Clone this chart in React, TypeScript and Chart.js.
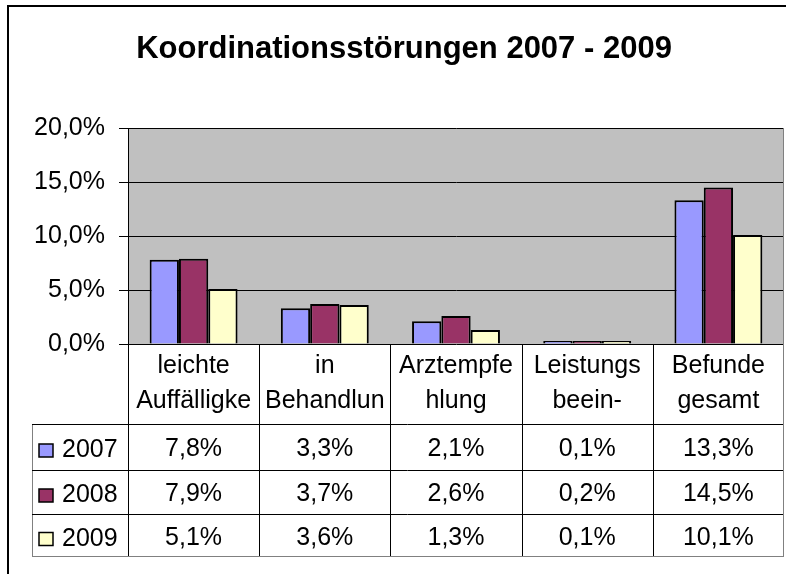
import React, { useEffect, useRef } from "react";
import { Chart, registerables } from "chart.js";

Chart.register(...registerables);

const TITLE = "Koordinationsstörungen 2007 - 2009";
const categories: string[][] = [
  ["leichte", "Auffälligke"],
  ["in", "Behandlun"],
  ["Arztempfe", "hlung"],
  ["Leistungs", "beein-"],
  ["Befunde", "gesamt"],
];
const seriesNames = ["2007", "2008", "2009"];
const values2007 = [7.8, 3.3, 2.1, 0.1, 13.3];
const values2008 = [7.9, 3.7, 2.6, 0.2, 14.5];
const values2009 = [5.1, 3.6, 1.3, 0.1, 10.1];
const seriesColors = ["#9999FF", "#993366", "#FFFFCC"];
const yTicks = [0, 5, 10, 15, 20];

const FONT = "'Liberation Sans', Arial, sans-serif";
const fmt = (v: number) => v.toFixed(1).replace(".", ",") + "%";

export default function App() {
  const ref = useRef<HTMLCanvasElement | null>(null);

  useEffect(() => {
    document.body.style.margin = "0";
    const canvas = ref.current!;
    const seriesValues = [values2007, values2008, values2009];

    const framePlugin = {
      id: "frame",
      beforeDraw(chart: any) {
        const { ctx, chartArea } = chart;
        ctx.save();
        ctx.fillStyle = "#FFFFFF";
        ctx.fillRect(0, 0, chart.width, chart.height);
        ctx.fillStyle = "#C0C0C0";
        ctx.fillRect(chartArea.left, chartArea.top, chartArea.right - chartArea.left, chartArea.bottom - chartArea.top);
        // outer frame
        ctx.strokeStyle = "#000000";
        ctx.lineWidth = 2;
        ctx.beginPath();
        ctx.moveTo(8, chart.height);
        ctx.lineTo(8, 6);
        ctx.lineTo(786, 6);
        ctx.stroke();
        // title
        ctx.fillStyle = "#000000";
        ctx.font = `bold 31px ${FONT}`;
        ctx.textAlign = "center";
        ctx.textBaseline = "alphabetic";
        ctx.fillText(TITLE, 404, 58);
        ctx.restore();
      },
      afterDatasetsDraw(chart: any) {
        const { ctx, chartArea } = chart;
        ctx.save();
        ctx.strokeStyle = "#808080";
        ctx.lineWidth = 1;
        ctx.beginPath();
        ctx.moveTo(chartArea.right - 0.5, chartArea.top);
        ctx.lineTo(chartArea.right - 0.5, chartArea.bottom);
        ctx.stroke();
        ctx.restore();
      },
      afterDraw(chart: any) {
        const { ctx, chartArea } = chart;
        const xs = chart.scales.x;
        const band = (chartArea.right - chartArea.left) / categories.length;
        const top = chartArea.bottom;
        const headerBottom = top + 80;
        const rowH = [46, 44, 43];
        const rowTops: number[] = [];
        let y = headerBottom;
        for (const h of rowH) { rowTops.push(y); y += h; }
        const tableBottom = y;
        const legendLeft = 32;

        ctx.save();
        ctx.lineWidth = 1;
        // vertical lines
        ctx.strokeStyle = "#000000";
        for (let i = 0; i < categories.length; i++) {
          const bx = Math.round(xs.getPixelForValue(i) - band / 2) + 0.5;
          ctx.beginPath();
          ctx.moveTo(bx, top);
          ctx.lineTo(bx, tableBottom);
          ctx.stroke();
        }
        ctx.strokeStyle = "#808080";
        ctx.beginPath();
        ctx.moveTo(chartArea.right - 0.5, top);
        ctx.lineTo(chartArea.right - 0.5, tableBottom);
        ctx.moveTo(legendLeft + 0.5, headerBottom);
        ctx.lineTo(legendLeft + 0.5, tableBottom);
        ctx.moveTo(legendLeft, tableBottom - 0.5);
        ctx.lineTo(chartArea.right, tableBottom - 0.5);
        ctx.stroke();
        // horizontal lines
        ctx.strokeStyle = "#000000";
        for (const rt of rowTops) {
          ctx.beginPath();
          ctx.moveTo(legendLeft, rt + 0.5);
          ctx.lineTo(chartArea.right - 1, rt + 0.5);
          ctx.stroke();
        }

        ctx.fillStyle = "#000000";
        ctx.font = `25px ${FONT}`;
        ctx.textAlign = "center";
        ctx.textBaseline = "alphabetic";
        // category header
        categories.forEach((lines, i) => {
          const cx = xs.getPixelForValue(i);
          ctx.fillText(lines[0], cx, top + 29);
          ctx.fillText(lines[1], cx, top + 64);
        });
        // values
        seriesValues.forEach((vals, r) => {
          const cy = rowTops[r] + rowH[r] / 2;
          vals.forEach((v, i) => {
            ctx.fillText(fmt(v), xs.getPixelForValue(i), cy + 9);
          });
          // legend key
          ctx.fillStyle = seriesColors[r];
          ctx.fillRect(39, cy - 3, 14, 13);
          ctx.strokeStyle = "#000000";
          ctx.lineWidth = 1.5;
          ctx.strokeRect(39, cy - 3, 14, 13);
          ctx.fillStyle = "#000000";
          ctx.textAlign = "left";
          ctx.fillText(seriesNames[r], 62, cy + 10);
          ctx.textAlign = "center";
        });
        ctx.restore();
      },
    };

    const chart = new Chart(canvas, {
      type: "bar",
      data: {
        labels: categories.map((c) => c.join(" ")),
        datasets: seriesNames.map((name, i) => ({
          label: name,
          data: [values2007, values2008, values2009][i],
          backgroundColor: seriesColors[i],
          borderColor: "#000000",
          borderWidth: 2,
          minBarLength: 3,
          categoryPercentage: 0.67,
          barPercentage: 1,
        })),
      },
      options: {
        responsive: false,
        animation: false,
        layout: { padding: { top: 128, left: 0, right: 6, bottom: 230 } },
        plugins: { legend: { display: false }, title: { display: false }, tooltip: { enabled: false } },
        scales: {
          x: { display: false },
          y: {
            min: 0,
            max: 20,
            afterBuildTicks: (scale: any) => {
              scale.ticks = yTicks.map((v) => ({ value: v }));
            },
            afterFit: (scale: any) => {
              scale.width = 128;
            },
            ticks: {
              color: "#000000",
              font: { family: FONT, size: 25 },
              padding: 14,
              callback: (v: any) => fmt(Number(v)),
            },
            grid: { color: "#000000", lineWidth: 1, tickLength: 9, drawTicks: true },
            border: { display: true, color: "#000000", width: 1 },
          },
        },
      },
      plugins: [framePlugin],
    });
    return () => chart.destroy();
  }, []);

  return (
    <div style={{ position: "absolute", left: 0, top: 0, width: 790, height: 574 }}>
      <canvas ref={ref} width={790} height={574} style={{ display: "block" }} />
    </div>
  );
}
